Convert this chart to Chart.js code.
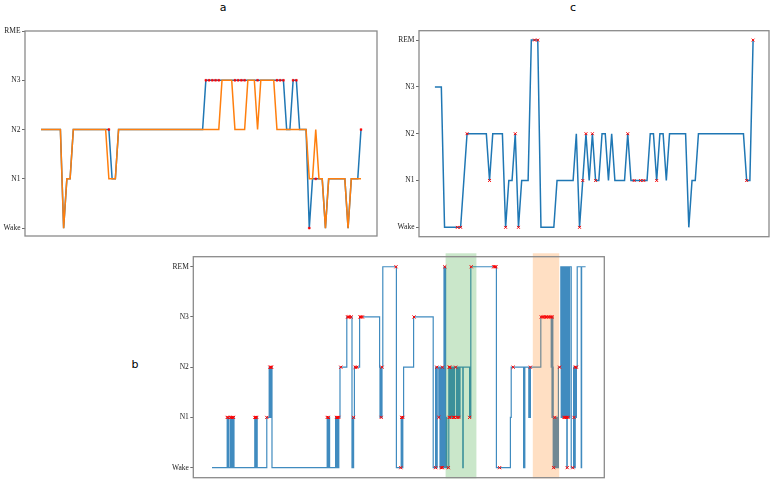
<!DOCTYPE html>
<html><head><meta charset="utf-8">
<script src="https://cdn.jsdelivr.net/npm/chart.js@4.4.0/dist/chart.umd.min.js"></script>
<style>
html,body{margin:0;padding:0;background:#fff;width:776px;height:484px;overflow:hidden;position:relative}
canvas{position:absolute}
.ttl{position:absolute;font-family:'DejaVu Sans',sans-serif;font-size:11px;color:#000;transform:translate(-50%,-50%);line-height:1}
</style></head><body>
<div class="ttl" style="left:223px;top:7px">a</div>
<div class="ttl" style="left:573px;top:7px">c</div>
<div class="ttl" style="left:135px;top:364px">b</div>
<canvas id="ca" width="390" height="230" style="left:0;top:20px"></canvas>
<canvas id="cc" width="390" height="230" style="left:386px;top:20px"></canvas>
<canvas id="cb" width="470" height="239" style="left:150px;top:245px"></canvas>
<script>
// ---------- data ----------
const stageTicks = [0, 1, 2, 3, 4];
const stageLabelsA = ['Wake', 'N1', 'N2', 'N3', 'RME'];
const stageLabels = ['Wake', 'N1', 'N2', 'N3', 'REM'];

// panel a: predicted (blue) vs reference (orange), one value per epoch
const aPredicted = [2,2,2,2,2,2,2,0,1,1, 2,2,2,2,2,2,2,2,2,2, 2,2,1,1,2,2,2,2,2,2,
  2,2,2,2,2,2,2,2,2,2, 2,2,2,2,2,2,2,2,2,2, 2,3,3,3,3,3,3,3,3,3,
  3,3,3,3,3,3,3,3,3,3, 3,3,3,3,3,3,2,2,3,3, 2,2,2,0,1,1,1,1,0,1,
  1,1,1,1,1,0,1,1,1,2];
const aReference = [2,2,2,2,2,2,2,0,1,1, 2,2,2,2,2,2,2,2,2,2, 2,1,1,1,2,2,2,2,2,2,
  2,2,2,2,2,2,2,2,2,2, 2,2,2,2,2,2,2,2,2,2, 2,2,2,2,2,2,3,3,3,3,
  2,2,2,2,3,3,3,2,3,3, 3,3,3,2,2,2,2,2,2,2, 2,2,2,1,1,2,1,1,0,1,
  1,1,1,1,1,0,1,1,1,1];

// panel c: predicted hypnogram and epochs marked as errors
const cPredicted = [3,3,3,0,0,0,0,0,0,1, 2,2,2,2,2,2,2,1,2,2, 2,2,0,1,1,2,0,1,1,1,
  4,4,4,0,0,0,0,0,1,1, 1,1,1,1,2,0,1,2,1,2, 1,1,2,2,1,2,1,1,1,1,
  2,1,1,1,1,1,1,2,2,1, 2,2,1,2,2,2,2,2,2,0, 1,1,2,2,2,2,2,2,2,2,
  2,2,2,2,2,2,2,1,1,4];
const cErrorEpochs = [7,8,10,17,22,25,26,31,32,45,46,47,49,50,60,62,64,65,69,97,99];

// panel b: full-night hypnogram as change points (epoch, stage)
const bEpochs = [
  0,38,39,40,42,46,47,48,49,52,53,54,55,
  107,108,109,111,112,113,
  137,143,144,145,146,147,148,149,150,
  288,290,291,292,293,294,
  309,310,311,313,314,316,317,320,
  337,350,352,353,354,356,369,
  419,420,422,423,425,427,461,
  473,474,475,476,477,479,504,553,
  559,562,563,567,568,570,571,573,575,577,
  580,581,582,584,585,587,592,
  593,594,595,597,598,600,601,603,604,606,
  611,612,615,616,619,620,627,628,644,647,
  711,746,748,779,780,781,782,792,793,794,796,
  822,848,849,850,851,852,853,
  854,855,857,858,860,861,863,864,866,
  872,873,874,877,878,879,880,881,882,883,884,885,886,887,888,889,890,893,894,898,
  904,905,906,907,908,910,911,913,923,924,934];
const bStages = [
  0,1,0,1,0,1,0,1,0,1,0,1,0,
  1,0,1,0,1,0,
  1,2,1,2,1,2,1,2,0,
  1,0,1,0,1,0,
  1,0,1,0,1,0,1,2,
  3,0,1,0,1,2,3,
  2,1,2,1,2,4,0,
  1,0,1,0,1,2,3,0,
  2,0,2,1,2,0,2,0,2,0,
  4,0,4,0,1,0,2,
  1,2,1,2,1,2,1,2,1,2,
  1,2,1,2,1,2,0,2,1,4,
  0,1,2,0,2,0,2,1,2,1,2,
  3,2,3,1,3,2,0,
  1,0,1,0,1,0,1,0,2,
  4,1,4,1,4,1,4,1,4,1,4,1,4,0,4,1,4,1,4,0,
  2,1,2,0,2,1,2,4,0,4,4];
const bErrEpochs = [
  38,40,46,48,52,54,
  107,109,112,
  137,145,147,149,
  288,291,
  311,314,317,322,
  339,341,343,348,354,358,362,370,373,376,
  423,425,460,
  472,474,477,505,
  559,562,567,573,576,576,582,
  591,593,595,593,595,604,606,609,613,617,644,648,
  704,707,710,719,753,796,
  823,827,831,835,839,843,847,851,854,857,869,
  880,882,885,887,888,890,902,905,908,911];
const bErrStages = [
  1,1,1,1,1,1,
  1,1,1,
  1,2,2,2,
  1,1,
  1,1,1,2,
  3,3,3,3,1,2,2,3,3,3,
  1,2,4,
  0,1,1,3,
  0,2,1,0,0,2,4,
  0,2,2,1,1,1,1,2,1,1,1,4,
  4,4,4,0,2,2,
  3,3,3,3,3,3,3,3,0,1,2,
  1,1,1,1,0,1,0,1,2,2];
const bHighlightStart = [584, 802];
const bHighlightEnd = [661, 868];
const bHighlightColors = ['rgba(44,160,44,0.25)', 'rgba(255,127,14,0.25)'];

// ---------- helpers ----------
const BLUE = '#1f77b4', ORANGE = '#ff7f0e';
const framePlugin = {
  id: 'frame',
  afterDraw(chart) {
    const a = chart.chartArea, ctx = chart.ctx;
    ctx.save();
    ctx.strokeStyle = '#8a8a8a';
    ctx.lineWidth = 1.3;
    ctx.strokeRect(a.left, a.top, a.right - a.left, a.bottom - a.top);
    ctx.restore();
  }
};
const spanPlugin = {
  id: 'spans',
  afterDatasetDraw(chart, args) {
    if (args.index !== 1) return;
    const ctx = chart.ctx, xs = chart.scales.x, a = chart.chartArea;
    ctx.save();
    for (let i = 0; i < bHighlightStart.length; i++) {
      const x0 = xs.getPixelForValue(bHighlightStart[i]);
      const x1 = xs.getPixelForValue(bHighlightEnd[i]);
      ctx.fillStyle = bHighlightColors[i];
      ctx.fillRect(x0, a.top - 3.4, x1 - x0, a.bottom - a.top + 4);
    }
    ctx.restore();
  }
};

function yAxis(labels, min, max, width) {
  return {
    type: 'linear', min: min, max: max,
    afterFit: s => { s.width = width; },
    afterBuildTicks: s => { s.ticks = stageTicks.map(v => ({ value: v })); },
    ticks: {
      autoSkip: false, padding: 1.5, color: '#222',
      font: { family: 'Liberation Serif', size: 7.5 },
      callback: v => labels[v]
    },
    grid: { display: true, drawOnChartArea: false, drawTicks: true, tickLength: 3, tickColor: '#444', tickWidth: 0.8 },
    border: { display: false }
  };
}
function xAxis(min, max) {
  return { type: 'linear', min: min, max: max, display: false };
}
function baseOptions(pad, yCfg, xCfg) {
  return {
    responsive: false, animation: false, devicePixelRatio: 1,
    layout: { padding: pad },
    plugins: { legend: { display: false }, tooltip: { enabled: false } },
    scales: { x: xCfg, y: yCfg },
    elements: { line: { tension: 0 } }
  };
}
const toXY = (xs, ys) => xs.map((x, i) => ({ x: x, y: ys[i] }));
const seq = arr => arr.map((v, i) => ({ x: i, y: v }));

// ---------- panel a ----------
const aErr = aPredicted.map((v, i) => ({ x: i, y: v })).filter((p, i) => aPredicted[i] !== aReference[i]);
new Chart(document.getElementById('ca'), {
  type: 'line',
  data: { datasets: [
    { data: aErr, showLine: false, pointStyle: 'rect', pointRadius: 1.3, pointBackgroundColor: 'red', pointBorderColor: 'red', pointBorderWidth: 0.5, order: 0, clip: false },
    { data: seq(aReference), borderColor: ORANGE, borderWidth: 1.5, pointRadius: 0, order: 1 },
    { data: seq(aPredicted), borderColor: BLUE, borderWidth: 1.5, pointRadius: 0, order: 2 }
  ]},
  options: baseOptions({ left: 0, top: 11, right: 13, bottom: 14 }, yAxis(stageLabelsA, -0.16, 4.0, 25), xAxis(-4.95, 103.95)),
  plugins: [framePlugin]
});

// ---------- panel c ----------
const cErr = cErrorEpochs.map(i => ({ x: i, y: cPredicted[i] }));
new Chart(document.getElementById('cc'), {
  type: 'line',
  data: { datasets: [
    { data: cErr, showLine: false, pointStyle: 'crossRot', pointRadius: 2, pointBorderColor: 'red', pointBorderWidth: 1, order: 0, clip: false },
    { data: seq(cPredicted), borderColor: BLUE, borderWidth: 1.5, pointRadius: 0, order: 1 }
  ]},
  options: baseOptions({ left: 0, top: 10.7, right: 7, bottom: 13.3 }, yAxis(stageLabels, -0.2, 4.2, 33), xAxis(-4.95, 103.95)),
  plugins: [framePlugin]
});

// ---------- panel b ----------
new Chart(document.getElementById('cb'), {
  type: 'line',
  data: { datasets: [
    { data: toXY(bErrEpochs, bErrStages), showLine: false, pointStyle: 'crossRot', pointRadius: 2.2, pointBorderColor: 'red', pointBorderWidth: 1, order: 0, clip: false },
    { data: toXY(bEpochs, bStages), borderColor: 'rgba(31,119,180,0.85)', borderWidth: 1.2, pointRadius: 0, stepped: 'before', order: 1 }
  ]},
  options: baseOptions({ left: 0, top: 11.7, right: 15.7, bottom: 6.3 }, yAxis(stageLabels, -0.2, 4.2, 43.3), xAxis(-46.7, 980.7)),
  plugins: [framePlugin, spanPlugin]
});
</script>
</body></html>
